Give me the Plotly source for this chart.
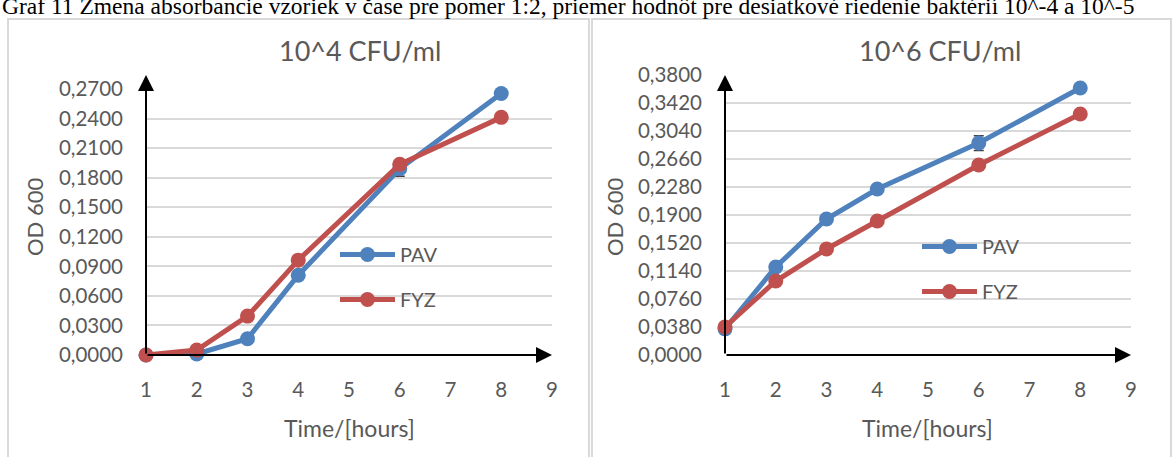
import plotly.graph_objects as go

# ---------------- data ----------------
hours = [1, 2, 3, 4, 6, 8]
pav_1e4 = [0.0000, 0.0010, 0.0165, 0.0810, 0.1890, 0.2655]
fyz_1e4 = [0.0000, 0.0050, 0.0395, 0.0963, 0.1936, 0.2412]
pav_1e6 = [0.0355, 0.1194, 0.1846, 0.2253, 0.2877, 0.3624]
fyz_1e6 = [0.0380, 0.1004, 0.1439, 0.1819, 0.2579, 0.3271]
pav_1e4_err = [None, None, None, None, 0.0075, None]
pav_1e6_err = [None, None, None, None, 0.0100, None]

x_ticks = [1, 2, 3, 4, 5, 6, 7, 8, 9]
y_ticks_left = [0.0, 0.03, 0.06, 0.09, 0.12, 0.15, 0.18, 0.21, 0.24, 0.27]
y_ticks_right = [0.0, 0.038, 0.076, 0.114, 0.152, 0.19, 0.228, 0.266, 0.304, 0.342, 0.38]

caption = ("Graf 11 Zmena absorbancie vzoriek v čase pre pomer 1:2, priemer hodnôt "
           "pre desiatkové riedenie baktérií 10^-4 a 10^-5")
title_left = "10^4 CFU/ml"
title_right = "10^6 CFU/ml"
y_title = "OD 600"
x_title = "Time/[hours]"

BLUE = "#4f81bd"
RED = "#c0504d"
GREY = "#595959"
GRID = "#d9d9d9"
FONT = "Lato"

W, H = 1174, 457

def px(x):
    return x / W

def py(y):
    return 1 - y / H

fig = go.Figure()

def add_series(x, y, name, color, xa, ya, legend, err=None):
    kw = {}
    if err is not None:
        kw["error_y"] = dict(type="data", array=err, visible=True,
                             color="#404040", thickness=1.5, width=5)
    fig.add_trace(go.Scatter(
        x=x, y=y, name=name, mode="lines+markers",
        line=dict(color=color, width=5),
        marker=dict(color=color, size=15),
        xaxis=xa, yaxis=ya, legend=legend, legendgroup=legend + name,
        cliponaxis=False, **kw))

add_series(hours, pav_1e4, "PAV", BLUE, "x", "y", "legend", pav_1e4_err)
add_series(hours, fyz_1e4, "FYZ", RED, "x", "y", "legend")
add_series(hours, pav_1e6, "PAV", BLUE, "x2", "y2", "legend2", pav_1e6_err)
add_series(hours, fyz_1e6, "FYZ", RED, "x2", "y2", "legend2")

axis_common = dict(showline=False, zeroline=False, ticks="", automargin=False,
                   tickfont=dict(family=FONT, size=20.5, color=GREY))

legend_common = dict(xanchor="left", yanchor="top", itemwidth=55,
                     font=dict(family=FONT, size=20, color=GREY),
                     tracegroupgap=16, bgcolor="rgba(0,0,0,0)")

fig.update_layout(
    width=W, height=H, margin=dict(l=0, r=0, t=0, b=0, pad=0, autoexpand=False),
    paper_bgcolor="white", plot_bgcolor="white",
    separators=", ",
    font=dict(family=FONT, color=GREY),
    xaxis=dict(domain=[px(146), px(552)], range=[1, 9], tickvals=x_ticks,
               showgrid=False, anchor="y", ticklabelstandoff=20, **axis_common),
    yaxis=dict(domain=[py(355), py(89)], range=[0, 0.27], tickvals=y_ticks_left,
               tickformat=".4f", showgrid=True, gridcolor=GRID, gridwidth=1.5,
               anchor="x", ticklabelstandoff=22, **axis_common),
    xaxis2=dict(domain=[px(725), px(1131)], range=[1, 9], tickvals=x_ticks,
                showgrid=False, anchor="y2", ticklabelstandoff=20, **axis_common),
    yaxis2=dict(domain=[py(355), py(75)], range=[0, 0.38], tickvals=y_ticks_right,
                tickformat=".4f", showgrid=True, gridcolor=GRID, gridwidth=1.5,
                anchor="x2", ticklabelstandoff=22, **axis_common),
    legend=dict(x=px(335), y=py(235), **legend_common),
    legend2=dict(x=px(917), y=py(227), **legend_common),
    showlegend=True,
)

# panel borders
for x0, x1 in [(8, 589), (592, 1171)]:
    fig.add_shape(type="rect", xref="paper", yref="paper",
                  x0=px(x0), x1=px(x1), y0=-0.05, y1=py(19),
                  line=dict(color=GRID, width=2), fillcolor="rgba(0,0,0,0)", layer="below")

# axes with arrowheads
for xr, yr, ytip in [("x", "y", (355 - 75) / (355 - 89)), ("x2", "y2", 1.0)]:
    fig.add_annotation(xref=xr + " domain", yref=yr + " domain",
                       axref=xr + " domain", ayref=yr + " domain",
                       x=0, y=ytip, ax=0, ay=0, text="", showarrow=True,
                       arrowhead=2, arrowsize=1.6, arrowwidth=2, arrowcolor="black")
    fig.add_annotation(xref=xr + " domain", yref=yr + " domain",
                       axref=xr + " domain", ayref=yr + " domain",
                       x=1, y=0, ax=0, ay=0, text="", showarrow=True,
                       arrowhead=2, arrowsize=1.6, arrowwidth=2, arrowcolor="black")

def label(x, y, text, size, angle=0, family=FONT, color=GREY, xanchor="center"):
    fig.add_annotation(xref="paper", yref="paper", x=x, y=y, text=text,
                       xanchor=xanchor, yanchor="middle", textangle=angle,
                       showarrow=False, font=dict(family=family, size=size, color=color))

# titles
label(px(360), py(50), title_left, 27)
label(px(940), py(50), title_right, 27)
# axis titles
for cx in [35, 615]:
    label(px(cx), py(217), y_title, 22, angle=-90)
for cx in [349, 928]:
    label(px(cx), py(428), x_title, 23)

# caption (cut off at top edge, as in the source image)
label(0, py(6), caption, 23.5, family="Liberation Serif", color="black", xanchor="left")

fig.write_html("out.html")
